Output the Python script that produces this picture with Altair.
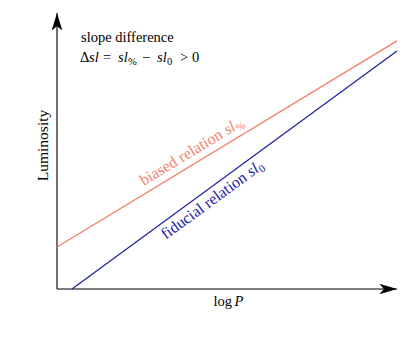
import math
import altair as alt
import pandas as pd

# ---- data ----
biased_x = [0.0, 10.0]
biased_y = [1.52, 8.99]
fiducial_x = [0.44, 10.0]
fiducial_y = [0.0, 8.62]

X_MAX, Y_MAX = 10.0, 10.0
W, H = 340, 276

SALMON = "#F57F6A"
BLUE = "#2222A6"
FONT = "Liberation Serif"
FS = 14.5
LS = 16

xs = alt.Scale(domain=[0, X_MAX], nice=False, zero=False)
ys = alt.Scale(domain=[0, Y_MAX], nice=False, zero=False)


def line_df(xv, yv):
    return pd.DataFrame({"x": xv, "y": yv})


def line_layer(xv, yv, color):
    return alt.Chart(line_df(xv, yv)).mark_line(color=color, strokeWidth=1.3).encode(
        x=alt.X("x:Q", scale=xs, axis=None), y=alt.Y("y:Q", scale=ys, axis=None)
    )


def pix_angle(xv, yv):
    slope = (yv[1] - yv[0]) / (xv[1] - xv[0]) * (H / Y_MAX) / (W / X_MAX)
    return 360 - math.degrees(math.atan(slope))


def txt(x, y, text, dx=0, dy=0, italic=False, size=FS, color="black", angle=0,
        align="left", baseline="alphabetic"):
    kw = dict(text=text, font=FONT, fontSize=size, color=color, align=align,
              baseline=baseline, dx=dx, dy=dy)
    if italic:
        kw["fontStyle"] = "italic"
    if angle:
        kw["angle"] = angle
    return alt.Chart(pd.DataFrame({"x": [x], "y": [y]})).mark_text(**kw).encode(
        x=alt.X("x:Q", scale=xs, axis=None), y=alt.Y("y:Q", scale=ys, axis=None)
    )


# axes
axis_df = pd.DataFrame({"x": [0.0, 0.0], "y": [0.0, 0.0], "x2": [X_MAX, 0.0], "y2": [0.0, Y_MAX]})
axes = alt.Chart(axis_df).mark_rule(color="black", strokeWidth=1.1).encode(
    x=alt.X("x:Q", scale=xs, axis=None), y=alt.Y("y:Q", scale=ys, axis=None),
    x2="x2:Q", y2="y2:Q"
)
arrow_up = "M0,0 L0.55,1.8 L0,1.35 L-0.55,1.8 Z"
arrow_right = "M0,0 L-1.8,-0.55 L-1.35,0 L-1.8,0.55 Z"
up = alt.Chart(pd.DataFrame({"x": [0.0], "y": [Y_MAX]})).mark_point(
    shape=arrow_up, size=380, filled=True, color="black", opacity=1, strokeWidth=0
).encode(x=alt.X("x:Q", scale=xs, axis=None), y=alt.Y("y:Q", scale=ys, axis=None))
right = alt.Chart(pd.DataFrame({"x": [X_MAX], "y": [0.0]})).mark_point(
    shape=arrow_right, size=380, filled=True, color="black", opacity=1, strokeWidth=0
).encode(x=alt.X("x:Q", scale=xs, axis=None), y=alt.Y("y:Q", scale=ys, axis=None))

lines = line_layer(biased_x, biased_y, SALMON) + line_layer(fiducial_x, fiducial_y, BLUE)

# annotation text
note = [txt(0.706, 8.95, "slope difference")]
fx, fy = 0.68, 8.24
for t, dx, it, small in [("Δ", 0, False, False), ("sl", 9, True, False), ("=", 23, False, False),
                         ("sl", 38, True, False), ("%", 48, False, True), ("−", 62, False, False),
                         ("sl", 77, True, False), ("0", 87, False, True), (">", 100, False, False),
                         ("0", 112, False, False)]:
    note.append(txt(fx, fy, t, dx=dx, italic=it, size=10.5 if small else FS, dy=3 if small else 0))

ab = pix_angle(biased_x, biased_y)
af = pix_angle(fiducial_x, fiducial_y)
labels = [
    txt(2.55, 3.73, "biased relation", angle=ab, color=SALMON, size=LS),
    txt(2.55, 3.73, "sl", dx=98, angle=ab, color=SALMON, italic=True, size=LS),
    txt(2.55, 3.73, "%", dx=109, dy=3, angle=ab, color=SALMON, size=11),
    txt(3.2, 1.78, "fiducial relation", angle=af, color=BLUE, size=LS),
    txt(3.2, 1.78, "sl", dx=106, angle=af, color=BLUE, italic=True, size=LS),
    txt(3.2, 1.78, "0", dx=117, dy=3, angle=af, color=BLUE, size=11),
]

titles = [
    txt(-0.41, 5.2, "Luminosity", angle=270, align="center", baseline="middle", size=15.5),
    txt(4.6, -0.6, "log", align="left"),
    txt(4.6, -0.6, "P", dx=21, italic=True),
]

chart = alt.layer(axes, lines, up, right, *note, *labels, *titles).properties(
    width=W, height=H,
    autosize=alt.AutoSizeParams(type="none"),
    padding={"left": 49, "top": 5, "right": 10, "bottom": 41},
).configure_view(stroke=None)

chart.save("out.html", embed_options={"renderer": "svg", "actions": False})
